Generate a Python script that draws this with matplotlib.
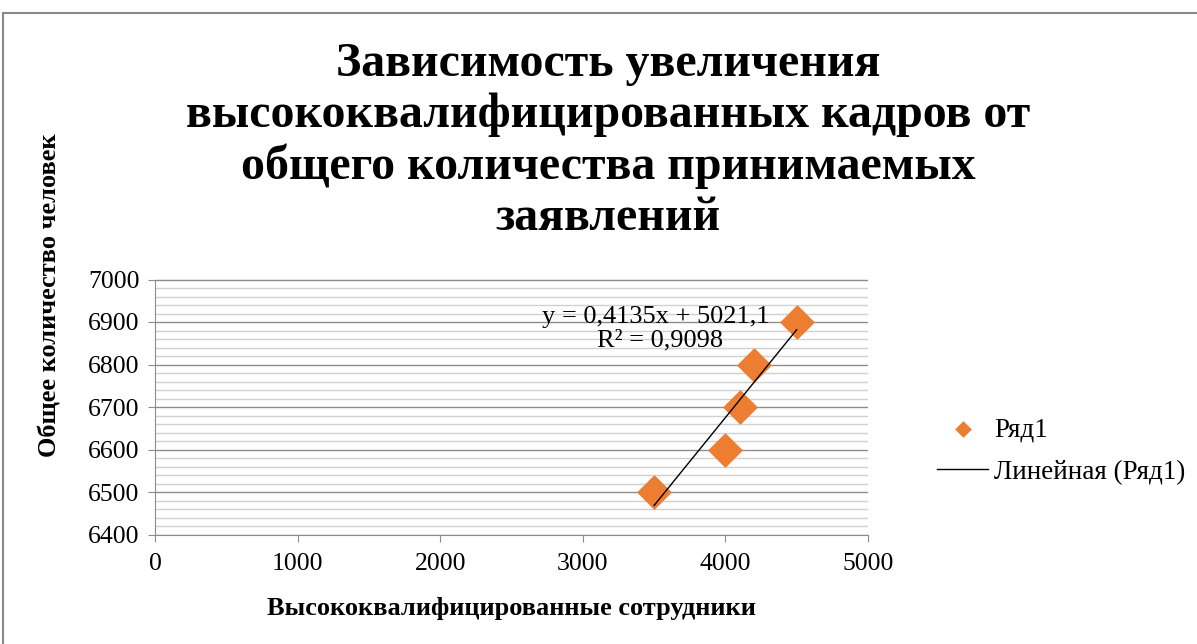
import numpy as np
import matplotlib
matplotlib.use("Agg")
from matplotlib import pyplot as plt
from matplotlib.ticker import MultipleLocator
from matplotlib.patches import Rectangle

# Data
x_vals = [3500, 4000, 4100, 4200, 4500]
y_vals = [6500, 6600, 6700, 6800, 6900]
slope = 0.4135
intercept = 5021.1
r2_text = "0,9098"
title = "Зависимость увеличения\nвысококвалифицированных кадров от\nобщего количества принимаемых\nзаявлений"
x_label = "Высококвалифицированные сотрудники"
y_label = "Общее количество человек"
series_name = "Ряд1"
trend_name = "Линейная (Ряд1)"

plt.rcParams['font.family'] = ['Liberation Serif', 'DejaVu Serif']

W, H = 1197, 644
fig = plt.figure(figsize=(W / 100, H / 100), dpi=100)
# chart border
fig.patches.append(Rectangle((3 / W, -0.01), 1.02, (H - 13) / H + 0.01, transform=fig.transFigure,
                             fill=False, edgecolor='#888888', linewidth=1.5))

ax = fig.add_axes([155 / W, (H - 534.5) / H, (868 - 155) / W, (534.5 - 279.5) / H])
ax.set_xlim(0, 5000)
ax.set_ylim(6400, 7000)
ax.xaxis.set_major_locator(MultipleLocator(1000))
ax.yaxis.set_major_locator(MultipleLocator(100))
ax.yaxis.set_minor_locator(MultipleLocator(20))
ax.grid(axis='y', which='major', color='#8c8c8c', linewidth=1.0)
ax.grid(axis='y', which='minor', color='#d0d0d0', linewidth=1.0)
ax.set_axisbelow(True)
for s in ['top', 'right']:
    ax.spines[s].set_visible(False)
for s in ['left', 'bottom']:
    ax.spines[s].set_color('#8c8c8c')
ax.tick_params(axis='both', which='major', direction='out', length=5, color='#8c8c8c',
               labelsize=18.5)
ax.tick_params(axis='x', pad=8)
ax.tick_params(axis='y', pad=6)
ax.tick_params(axis='y', which='minor', length=0)

ax.scatter(x_vals, y_vals, marker='D', s=280, color='#ED7D31', zorder=3, label=series_name)
xt = np.array([min(x_vals), max(x_vals)])
ax.plot(xt, slope * xt + intercept, color='black', linewidth=1.0, zorder=4, label=trend_name)

ax.text(3513, 6912, "y = 0,4135x + 5021,1", fontsize=19, ha='center', va='center')
ax.text(3540, 6856, "R² = " + r2_text, fontsize=19, ha='center', va='center')

ax.set_xlabel(x_label, fontsize=19, fontweight='bold', labelpad=16)
ax.set_ylabel(y_label, fontsize=19, fontweight='bold')
ax.yaxis.set_label_coords((62 - 155) / 713, (534.5 - 295) / 255)

fig.text(608 / W, 1 - 141 / H, title, fontsize=34.5, fontweight='bold', ha='center', va='center',
         linespacing=1.19)

leg = fig.legend(loc='center left', bbox_to_anchor=(937 / W, 1 - 451 / H), frameon=False,
                 fontsize=19.5, handlelength=1.9, labelspacing=0.65, handletextpad=0.2,
                 borderpad=0, borderaxespad=0, markerscale=0.45)

fig.savefig("out.png", dpi=100)
